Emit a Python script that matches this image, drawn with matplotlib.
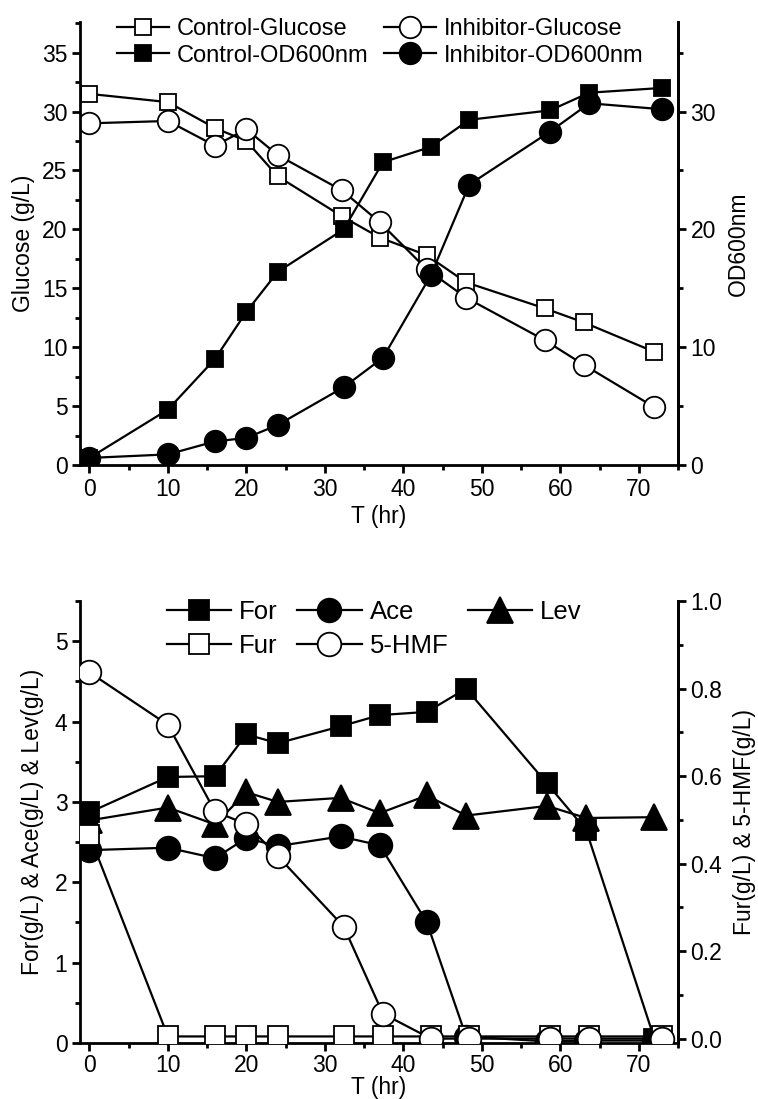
import matplotlib.pyplot as plt
from matplotlib.ticker import MultipleLocator

plt.rcParams['font.family'] = ['Liberation Sans', 'DejaVu Sans']

# top panel: glucose and OD600
T_GLU = [0, 10, 16, 20, 24, 32.2, 37, 43, 48, 58, 63, 72]
CTRL_GLU = [31.5, 30.8, 28.6, 27.5, 24.5, 21.1, 19.3, 17.8, 15.5, 13.3, 12.1, 9.6]
INH_GLU = [29.0, 29.2, 27.1, 28.5, 26.3, 23.3, 20.6, 16.6, 14.2, 10.6, 8.5, 4.9]
T_OD = [0, 10, 16, 20, 24, 32.4, 37.4, 43.5, 48.4, 58.7, 63.7, 72.9]
CTRL_OD = [0.6, 4.7, 9.0, 13.0, 16.4, 20.0, 25.7, 27.0, 29.3, 30.1, 31.6, 32.0]
INH_OD = [0.6, 0.9, 2.0, 2.3, 3.4, 6.6, 9.1, 16.1, 23.8, 28.3, 30.7, 30.2]

# bottom panel: inhibitors
T_ACID = [0, 10, 16, 20, 24, 32, 37, 43, 48, 58.3, 63.3, 72]
FOR = [2.87, 3.31, 3.32, 3.84, 3.73, 3.94, 4.08, 4.12, 4.41, 3.23, 2.65, 0.05]
ACE = [2.40, 2.43, 2.30, 2.55, 2.45, 2.57, 2.46, 1.50, 0.08, 0.02, 0.03, 0.03]
LEV = [2.77, 2.93, 2.72, 3.12, 3.00, 3.05, 2.86, 3.08, 2.83, 2.95, 2.80, 2.81]
T_FUR = [0, 10, 16, 20, 24, 32.4, 37.4, 43.5, 48.4, 58.7, 63.7, 72.9]
FUR = [0.465, 0.005, 0.005, 0.005, 0.005, 0.005, 0.005, 0.005, 0.005, 0.005, 0.005, 0.005]
HMF = [0.837, 0.717, 0.519, 0.49, 0.417, 0.256, 0.057, 0.0, 0.0, 0.0, 0.0, 0.0]

FS = 16.5
W, H = 758, 1099


def style(ax, side):
    ax.spines['top'].set_visible(False)
    for s in ['left', 'right', 'bottom']:
        ax.spines[s].set_linewidth(2)
    ax.tick_params(which='major', direction='out', length=6, width=2,
                   labelsize=FS, pad=3)
    ax.tick_params(which='minor', direction='out', length=3.5, width=2)
    ax.tick_params(axis='y', which='both', left=(side == 'left'),
                   right=(side == 'right'), labelleft=(side == 'left'),
                   labelright=(side == 'right'))


fig = plt.figure(figsize=(W / 100, H / 100), dpi=100)

# ---- top panel
ax1 = fig.add_axes([80 / W, 1 - 465 / H, 598 / W, 443 / H])
ax2 = ax1.twinx()
lk = dict(color='black', lw=1.6, mec='black', mew=1.3)
h1, = ax1.plot(T_GLU, CTRL_GLU, marker='s', ms=12, mfc='white', label='Control-Glucose', **lk)
h3, = ax1.plot(T_GLU, INH_GLU, marker='o', ms=15.5, mfc='white', label='Inhibitor-Glucose', **lk)
h2, = ax2.plot(T_OD, CTRL_OD, marker='s', ms=12, mfc='black', label='Control-OD600nm', **lk)
h4, = ax2.plot(T_OD, INH_OD, marker='o', ms=15.5, mfc='black', label='Inhibitor-OD600nm', **lk)

ax1.set_xlim(-1.2, 75)
ax1.set_ylim(0, 37.6)
ax2.set_ylim(0, 37.6)
ax1.xaxis.set_major_locator(MultipleLocator(10))
ax1.xaxis.set_minor_locator(MultipleLocator(5))
ax1.yaxis.set_major_locator(MultipleLocator(5))
ax1.yaxis.set_minor_locator(MultipleLocator(2.5))
ax2.yaxis.set_major_locator(MultipleLocator(10))
ax2.yaxis.set_minor_locator(MultipleLocator(5))
style(ax1, 'left')
style(ax2, 'right')
ax2.spines['left'].set_visible(False)
ax2.spines['bottom'].set_visible(False)
ax1.set_xlabel('T (hr)', fontsize=FS, labelpad=3)
ax1.set_ylabel('Glucose (g/L)', fontsize=FS, labelpad=5)
ax2.set_ylabel('OD600nm', fontsize=FS, labelpad=8)
ax2.legend(handles=[h1, h2, h3, h4], ncol=2, frameon=False, fontsize=17,
           loc='upper left', bbox_to_anchor=(117 / W, 1 - 18 / H),
           bbox_transform=fig.transFigure, borderpad=0, borderaxespad=0,
           handlelength=2.2, handletextpad=0.34, columnspacing=0.64,
           labelspacing=0.2)

# ---- bottom panel
ax3 = fig.add_axes([80 / W, 1 - 1043 / H, 598 / W, 442 / H])
ax4 = ax3.twinx()
hf, = ax3.plot(T_ACID, FOR, marker='s', ms=14.5, mfc='black', label='For', **lk)
ha, = ax3.plot(T_ACID, ACE, marker='o', ms=17, mfc='black', label='Ace', **lk)
hl, = ax3.plot(T_ACID, LEV, marker='^', ms=19, mfc='black', label='Lev', **lk)
hu, = ax4.plot(T_FUR, FUR, marker='s', ms=14.5, mfc='white', label='Fur', **lk)
hh, = ax4.plot(T_FUR, HMF, marker='o', ms=17, mfc='white', label='5-HMF', **lk)

ax3.set_xlim(-1.2, 75)
ax3.set_ylim(0, 5.5)
ax4.set_ylim(-0.01, 1.0)
ax3.xaxis.set_major_locator(MultipleLocator(10))
ax3.xaxis.set_minor_locator(MultipleLocator(5))
ax3.yaxis.set_major_locator(MultipleLocator(1))
ax3.yaxis.set_minor_locator(MultipleLocator(0.5))
ax4.yaxis.set_major_locator(MultipleLocator(0.2))
ax4.yaxis.set_minor_locator(MultipleLocator(0.1))
ax4.yaxis.set_major_formatter(lambda v, p: f'{v:.1f}')
style(ax3, 'left')
style(ax4, 'right')
ax3.tick_params(axis='x', which='major', pad=2)
ax4.spines['left'].set_visible(False)
ax4.spines['bottom'].set_visible(False)
ax3.set_xlabel('T (hr)', fontsize=FS, labelpad=-1)
ax3.set_ylabel('For(g/L) & Ace(g/L) & Lev(g/L)', fontsize=FS, labelpad=8)
ax4.set_ylabel('Fur(g/L) & 5-HMF(g/L)', fontsize=FS, labelpad=8)
ax4.legend(handles=[hf, hu, ha, hh, hl], ncol=3, frameon=False, fontsize=18.5,
           loc='upper left', bbox_to_anchor=(167 / W, 1 - 600 / H),
           bbox_transform=fig.transFigure, borderpad=0, borderaxespad=0,
           handlelength=2.5, handletextpad=0.31, columnspacing=0.76,
           labelspacing=0.4)

fig.savefig('out.png', dpi=100)
